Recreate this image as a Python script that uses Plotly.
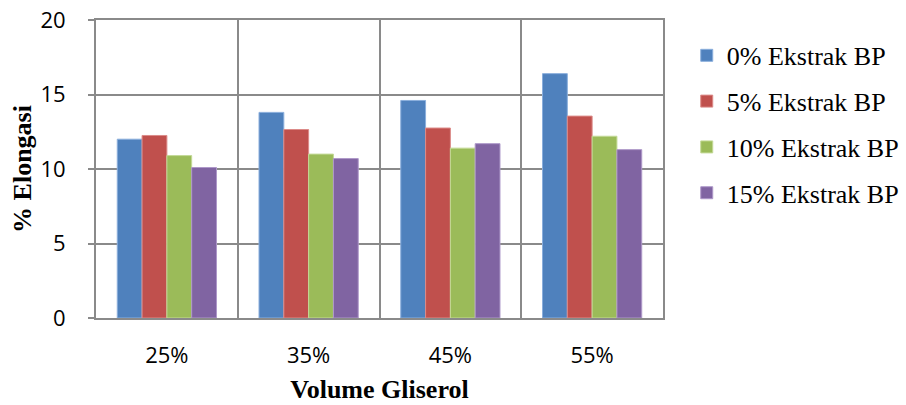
import plotly.graph_objects as go

categories = ["25%", "35%", "45%", "55%"]
series_names = ["0% Ekstrak BP", "5% Ekstrak BP", "10% Ekstrak BP", "15% Ekstrak BP"]
ekstrak_0 = [12.0, 13.8, 14.6, 16.4]
ekstrak_5 = [12.25, 12.65, 12.75, 13.55]
ekstrak_10 = [10.9, 11.0, 11.4, 12.2]
ekstrak_15 = [10.1, 10.7, 11.7, 11.3]
y_ticks = [0, 5, 10, 15, 20]

colors = ["#4F81BD", "#C0504D", "#9BBB59", "#8064A2"]
edges = ["#8AAEDC", "#DC8B89", "#C4DA97", "#AE98C9"]

xpos = list(range(len(categories)))
fig = go.Figure()
for name, vals, c, e in zip(series_names, [ekstrak_0, ekstrak_5, ekstrak_10, ekstrak_15], colors, edges):
    fig.add_trace(go.Bar(x=xpos, y=vals, name=name, legendgroup=name,
                         marker=dict(color=c, line=dict(color=e, width=1))))

grid = "#8A8A8A"
fig.update_layout(
    width=906, height=405,
    margin=dict(l=96, r=243, t=20, b=87),
    paper_bgcolor="white", plot_bgcolor="white",
    barmode="group", bargap=0.3, bargroupgap=0,
    showlegend=True,
    legend=dict(xref="container", x=0.758, xanchor="left", y=0.96, yanchor="top",
                font=dict(family="Liberation Serif", size=26, color="black"),
                tracegroupgap=9, itemwidth=30),
    xaxis=dict(range=[-0.5, len(categories) - 0.5], tickvals=xpos, ticktext=categories,
               automargin=False,
               showgrid=False, showline=True, linecolor=grid, linewidth=2, mirror=True,
               ticks="", ticklabelstandoff=17, zeroline=False,
               tickfont=dict(family="Open Sans", size=22, color="black"),
               minor=dict(tick0=0.5, dtick=1, showgrid=True, gridcolor=grid, gridwidth=2, ticks=""),
               title=dict(text="<b>Volume Gliserol</b>", standoff=11,
                          font=dict(family="Liberation Serif", size=26, color="black"))),
    yaxis=dict(range=[0, 20], tickvals=y_ticks, showgrid=True, gridcolor=grid, gridwidth=2,
               automargin=False,
               showline=True, linecolor=grid, linewidth=2, mirror=True,
               ticks="outside", ticklen=6, tickcolor=grid, tickwidth=1.5,
               ticklabelstandoff=18, zeroline=False,
               tickfont=dict(family="Open Sans", size=22, color="black"),
               title=dict(text="<b>% Elongasi</b>", standoff=1,
                          font=dict(family="Liberation Serif", size=26, color="black"))),
)
fig.write_html("out.html", config={"displayModeBar": False},
               post_script="document.body.style.margin='0';")
